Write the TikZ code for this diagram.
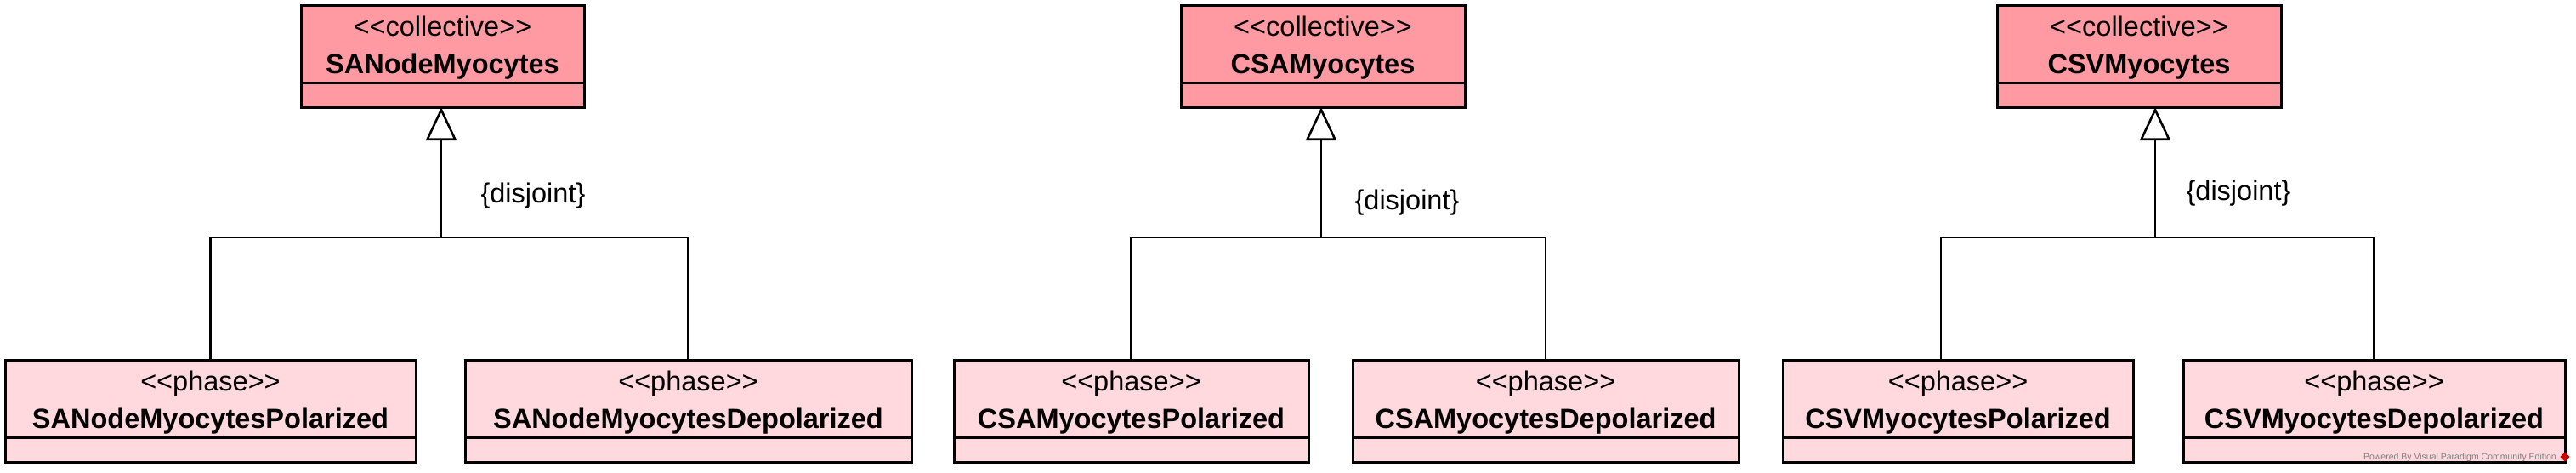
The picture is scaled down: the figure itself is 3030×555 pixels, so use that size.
\documentclass[tikz,border=0pt]{standalone}
\usepackage{fontspec}
\setmainfont{Liberation Sans}
\usetikzlibrary{arrows.meta,positioning,calc}
\definecolor{CollPink}{HTML}{FF9AA2}
\definecolor{PhasePink}{HTML}{FFD9DE}
\newcommand\stereo[1]{<\kern0pt<#1>\kern0pt>}

\begin{document}
\begin{tikzpicture}[x=1pt,y=-1pt,
    collbox/.style={draw,fill=CollPink,line width=3pt,minimum height=120pt,inner sep=0pt,outer sep=0pt},
    phasebox/.style={draw,fill=PhasePink,line width=3pt,minimum height=120pt,inner sep=0pt,outer sep=0pt},
    stereotxt/.style={anchor=base,font=\fontsize{32.5}{39}\selectfont,inner sep=0pt},
    nametxt/.style={anchor=base,font=\fontsize{32.5}{39}\selectfont\bfseries,inner sep=0pt},
    genline/.style={line width=2.6pt},
    genarrow/.style={line width=2.6pt,-{Triangle[open,length=39pt,width=36pt,fill=white]}}]
    \useasboundingbox (0,0) rectangle (3030,555);
    % collectives
    \node[collbox,minimum width=333pt] (sanode) at (520.5,66) {};
    \node[collbox,minimum width=334pt] (csa) at (1556,66) {};
    \node[collbox,minimum width=334pt] (csv) at (2516,66) {};
    % phases
    \node[phasebox,minimum width=483pt] (sapol) at (247.5,483) {};
    \node[phasebox,minimum width=525pt] (sadep) at (809.5,483) {};
    \node[phasebox,minimum width=417pt] (csapol) at (1330.5,483) {};
    \node[phasebox,minimum width=454pt] (csadep) at (1818,483) {};
    \node[phasebox,minimum width=412pt] (csvpol) at (2303,483) {};
    \node[phasebox,minimum width=449pt] (csvdep) at (2792.5,483) {};
    \foreach \c/\s/\n in {sanode/collective/SANodeMyocytes,csa/collective/CSAMyocytes,csv/collective/CSVMyocytes,
        sapol/phase/SANodeMyocytesPolarized,sadep/phase/SANodeMyocytesDepolarized,
        csapol/phase/CSAMyocytesPolarized,csadep/phase/CSAMyocytesDepolarized,
        csvpol/phase/CSVMyocytesPolarized,csvdep/phase/CSVMyocytesDepolarized}{
      \draw[line width=3pt] ([yshift=29pt]\c.south west) -- ([yshift=29pt]\c.south east);
      \node[stereotxt] (\c-st) at ([yshift=-36pt]\c.north) {\stereo{\s}};
      \node[nametxt] (\c-nm) at ([yshift=-80.5pt]\c.north) {\n};
    }
    % generalisation sets
    \coordinate (sabar) at (519,279);
    \coordinate (csabar) at (1554,279);
    \coordinate (csvbar) at (2535,279);
    \draw[genline] (sapol.north) -- (sapol.north |- sabar) -- (sadep.north |- sabar) -- (sadep.north);
    \draw[genline] (csapol.north) -- (csapol.north |- csabar) -- (csadep.north |- csabar) -- (csadep.north);
    \draw[genline] ([xshift=-20pt]csvpol.north) -- ([xshift=-20pt]csvpol.north |- csvbar) -- (csvdep.north |- csvbar) -- (csvdep.north);
    \draw[genarrow] (sabar) -- (sabar |- sanode.south);
    \draw[genarrow] (csabar) -- (csabar |- csa.south);
    \draw[genarrow] (csvbar) -- (csvbar |- csv.south);
    \node[font=\fontsize{32.5}{39}\selectfont,inner sep=0pt] (sadisj) at (627,230) {\{disjoint\}};
    \node[font=\fontsize{32.5}{39}\selectfont,inner sep=0pt] (csadisj) at (1655,238) {\{disjoint\}};
    \node[font=\fontsize{32.5}{39}\selectfont,inner sep=0pt] (csvdisj) at (2633,227) {\{disjoint\}};
    % watermark
    \node[font=\fontsize{10.5}{12}\selectfont,text=gray,anchor=east,inner sep=0pt] (vpmark) at (3007,538) {Powered By Visual Paradigm Community Edition};
    \node[fill=red!80!black,minimum size=8pt,inner sep=0pt,rotate=45] (vplogo) at (3017,537) {};
\end{tikzpicture}
\end{document}
